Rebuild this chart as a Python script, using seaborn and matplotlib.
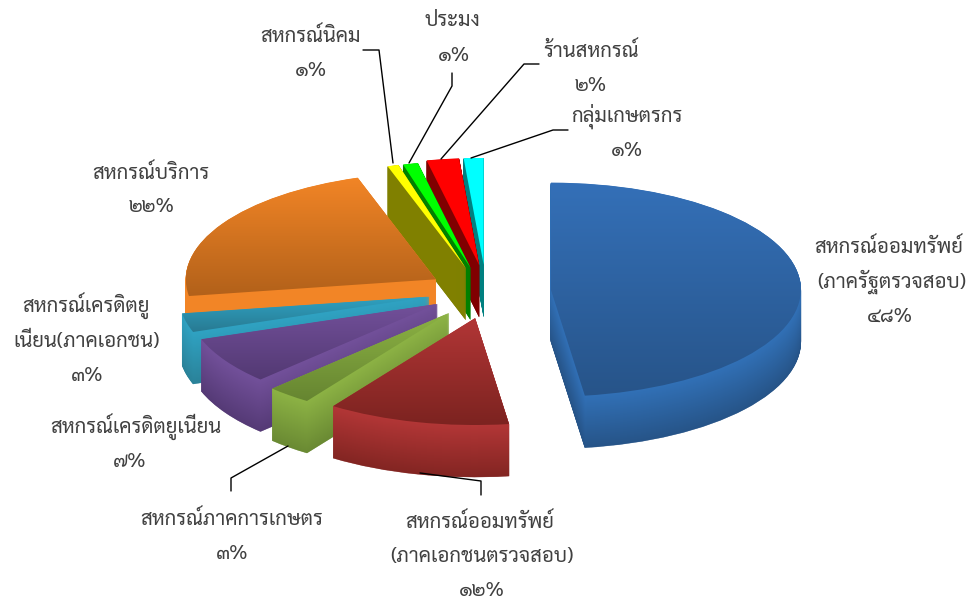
import matplotlib
matplotlib.use("Agg")
import matplotlib.pyplot as plt
import seaborn as sns
import numpy as np
from matplotlib.patches import Wedge
from matplotlib.lines import Line2D
import logging
logging.getLogger("matplotlib.font_manager").setLevel(logging.ERROR)

categories = ["สหกรณ์ออมทรัพย์ (ภาครัฐตรวจสอบ)", "สหกรณ์ออมทรัพย์ (ภาคเอกชนตรวจสอบ)", "สหกรณ์ภาคการเกษตร",
              "สหกรณ์เครดิตยูเนี่ยน", "สหกรณ์เครดิตยูเนี่ยน(ภาคเอกชน)", "สหกรณ์บริการ",
              "สหกรณ์นิคม", "ประมง", "ร้านสหกรณ์", "กลุ่มเกษตรกร"]
# shares (the printed labels are these values rounded)
values = [47.83, 11.78, 2.89, 7.14, 2.86, 22.44, 0.72, 0.97, 2.09, 1.28]
explode = [0.26, 0.275, 0.26, 0.235, 0.235, 0.235, 0.21, 0.21, 0.23, 0.23]
# small extra sideways / vertical explode of each slice, in pie radii
drift_x = [0.0, 0.02, 0.018, 0.004, 0.0, 0.0, -0.02, -0.012, 0.006, 0.0]
drift_y = [-0.02, 0.0, -0.02, -0.01, -0.01, -0.028, 0.0, 0.0, 0.0, 0.0]
top_light = ["#3470b8", "#b23636", "#8cb244", "#72509a", "#2fa2c2", "#f28526", "#ffff00", "#00ff00", "#ff0000", "#00ffff"]
top_dark = ["#275489", "#7c2320", "#668531", "#533973", "#287a92", "#b2611a", "#ffff00", "#00ff00", "#ff0000", "#00ffff"]
side_light = ["#3170b6", "#b23636", "#8cb244", "#72509a", "#2fa2c2", "#f28526", "#808000", "#008000", "#800000", "#008080"]
side_dark = ["#265488", "#832522", "#6a8a33", "#553a76", "#2a8299", "#f28526", "#808000", "#008000", "#800000", "#008080"]
draw_order = [9, 8, 7, 6, 5, 4, 3, 2, 1, 0]

labels = [
    ("สหกรณ์ออมทรัพย์", 889, 247), ("(ภาครัฐตรวจสอบ)", 892, 282), ("๔๘%", 890, 317),
    ("สหกรณ์ออมทรัพย์", 480, 522), ("(ภาคเอกชนตรวจสอบ)", 482, 557), ("๑๒%", 482, 591),
    ("สหกรณ์ภาคการเกษตร", 232, 519), ("๓%", 232, 554),
    ("สหกรณ์เครดิตยูเนี่ยน", 136, 427), ("๗%", 130, 462),
    ("สหกรณ์เครดิตยู", 86, 306), ("เนี่ยน(ภาคเอกชน)", 87, 341), ("๓%", 87, 376),
    ("สหกรณ์บริการ", 151, 173), ("๒๒%", 151, 207),
    ("สหกรณ์นิคม", 311, 36), ("๑%", 311, 71),
    ("ประมง", 452, 21), ("๑%", 454, 56),
    ("ร้านสหกรณ์", 591, 51), ("๒%", 591, 86),
    ("กลุ่มเกษตรกร", 627, 116), ("๑%", 627, 151),
]
leaders = [
    ([363, 379, 393], [50, 50, 163]),
    ([452, 452, 409], [73, 86, 163]),
    ([539, 524, 441], [64, 64, 159]),
    ([568, 553, 471], [130, 130, 158]),
    ([231, 231, 288], [491, 478, 446]),
    ([481, 481, 420], [495, 481, 473]),
]

W, H = 972, 601
sns.set_theme(style="white")
plt.rcParams["font.family"] = ["Sarabun", "Noto Sans Thai", "Niramit", "Anuphan", "DejaVu Sans"]

fig = plt.figure(figsize=(W / 100, H / 100), dpi=100, facecolor="white")
ax = fig.add_axes([0, 0, 1, 1])
wedges, _ = ax.pie(values, explode=explode, startangle=90, counterclock=False, radius=1.0)

# one pie radius spans 250 px across and 107 px down; the extrusion is expressed in data units
cx_px, cy_px, rx_px, ry_px, depth_px = 486, 289.4, 250, 107, 52
ax.set_aspect("auto")
ax.set_xlim(-cx_px / rx_px, (W - cx_px) / rx_px)
ax.set_ylim(-(H - cy_px) / ry_px, cy_px / ry_px)
ax.axis("off")

layers = depth_px * 2
for z, i in enumerate(draw_order):
    w = wedges[i]
    w.set_center((w.center[0] + drift_x[i], w.center[1] + drift_y[i]))
    base = 10 * (z + 1)
    pal = sns.blend_palette([side_dark[i], side_light[i]], layers)
    for k in range(layers):
        off = (layers - k) / 2 / ry_px
        ax.add_patch(Wedge((w.center[0], w.center[1] - off), w.r, w.theta1, w.theta2,
                           facecolor=pal[k], edgecolor=pal[k], linewidth=0.3, zorder=base))
    w.set_facecolor("none")
    w.set_edgecolor("none")
    w.set_zorder(base + 2)
    bb = w.get_path().get_extents(w.get_patch_transform())
    cmap = sns.blend_palette([top_light[i], top_dark[i]], as_cmap=True)
    im = ax.imshow(np.linspace(0, 1, 128)[:, None], extent=[bb.x0, bb.x1, bb.y0, bb.y1],
                   aspect="auto", cmap=cmap, origin="upper", zorder=base + 1)
    im.set_clip_path(w)

ax.set_xlim(-cx_px / rx_px, (W - cx_px) / rx_px)
ax.set_ylim(-(H - cy_px) / ry_px, cy_px / ry_px)

for s, x, y in labels:
    fig.text(x / W, 1 - y / H, s, ha="center", va="center", fontsize=14.6, color="#404040")
for xs, ys in leaders:
    fig.add_artist(Line2D(np.array(xs) / W, 1 - np.array(ys) / H, transform=fig.transFigure,
                          color="black", lw=1.0))

fig.savefig("out.png", dpi=100, facecolor="white")
